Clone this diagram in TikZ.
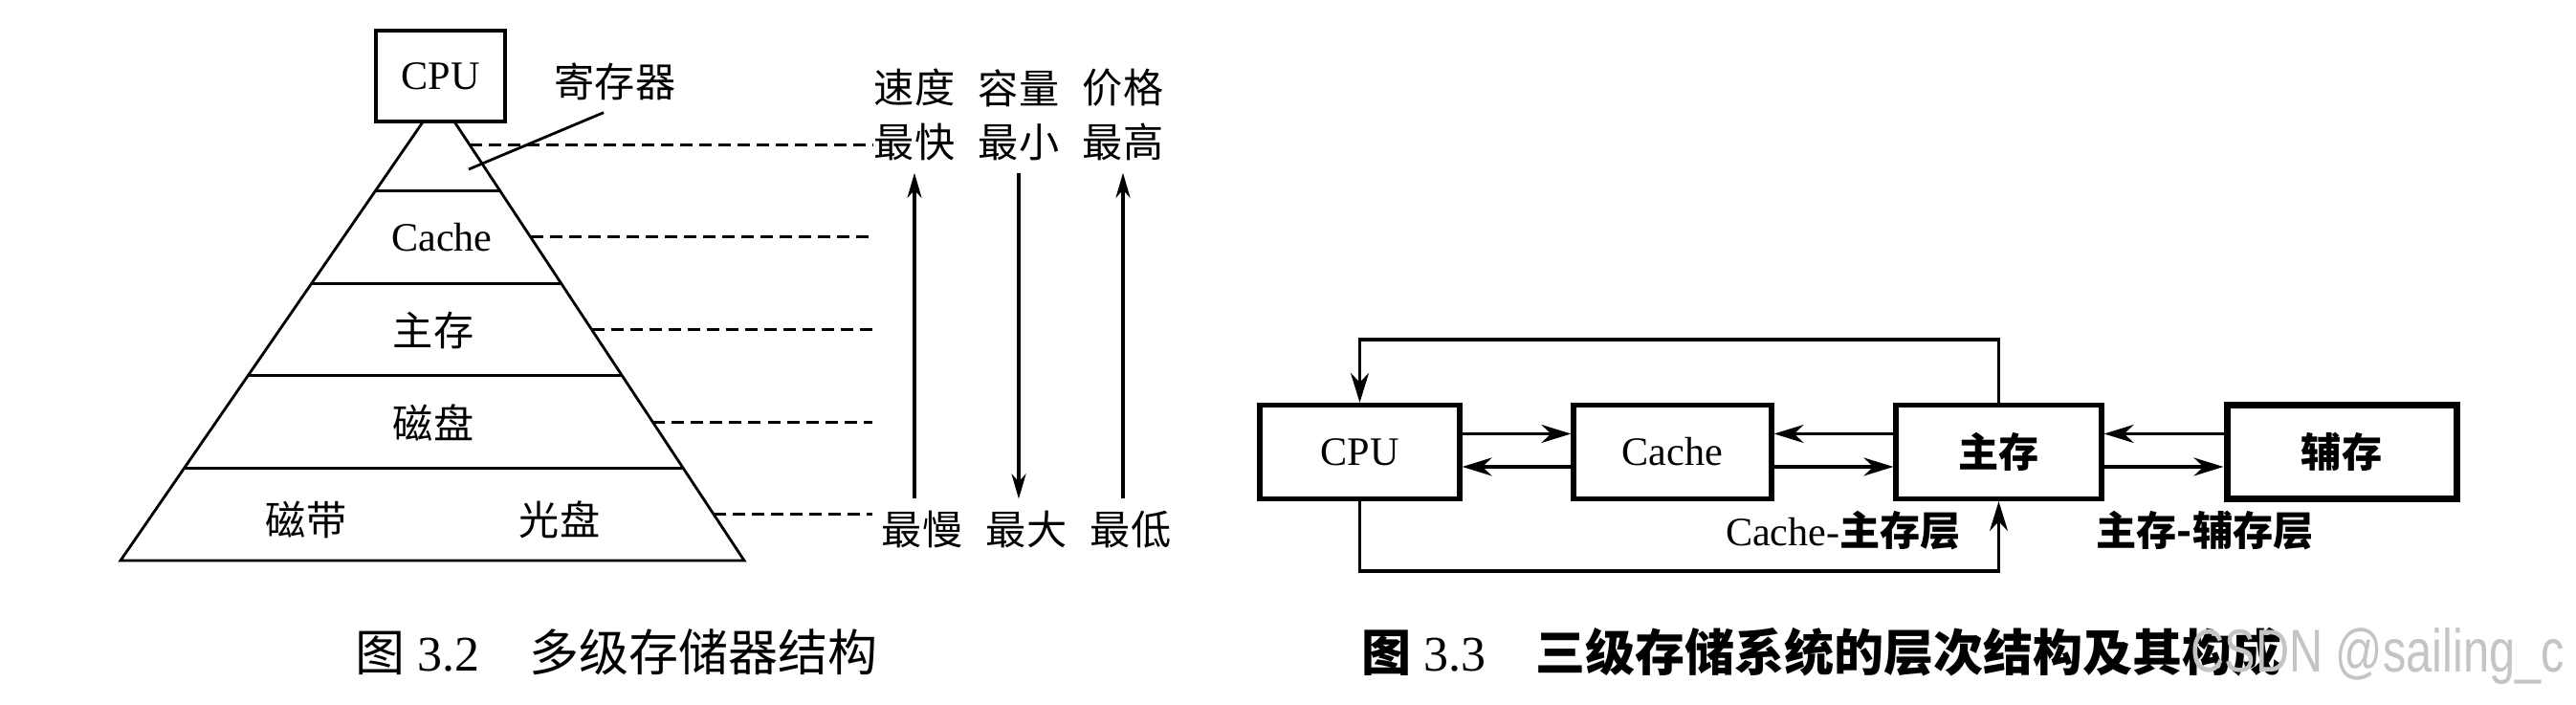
\documentclass[tikz,border=0pt]{standalone}
\usepackage{fontspec}
\setmainfont{Liberation Serif}
\newfontfamily\cjk{Noto Sans CJK SC}
\newfontfamily\wmfont{Liberation Sans}
\usepackage{graphicx}
\usepackage{tikz}
\usetikzlibrary{calc,arrows.meta}
\definecolor{markgray}{RGB}{196,196,196}

\begin{document}
\begin{tikzpicture}[
    font=\fontsize{12}{16}\selectfont,
    line width=0.8pt,
    zh/.style={font=\fontsize{12}{16}\selectfont\cjk},
    zhb/.style={font=\fontsize{12}{16}\selectfont\cjk\bfseries},
    guide/.style={line width=0.85pt, dash pattern=on 3.7pt off 2pt},
    trend/.style={line width=1pt, -{Stealth[length=2.6mm,width=1.5mm,inset=0.8mm]}},
    unit/.style={draw, line width=1.5pt, minimum width=2.08cm, minimum height=0.98cm, inner sep=0pt},
    flow/.style={line width=0.95pt, -{Stealth[length=3.1mm,width=1.9mm,inset=1mm]}},
    captext/.style={font=\fontsize{14.8}{18}\selectfont, anchor=west}
]
    \useasboundingbox (0,0) rectangle (26.93,7.37);

    % Pyramid of storage levels
    \coordinate (apex) at (4.59,6.34);
    \coordinate (BL) at (1.26,1.51);
    \coordinate (BR) at (7.78,1.51);
    \draw (apex) -- (BL) -- (BR) -- cycle;
    \foreach \t in {0.2,0.4,0.6,0.8}
        \draw ($(apex)!\t!(BL)$) -- ($(apex)!\t!(BR)$);

    % CPU box hides the tip
    \node[draw, fill=white, line width=0.95pt, minimum width=1.35cm, minimum height=0.95cm] (cpu) at (4.605,6.575) {CPU};

    % Level labels
    \node (cache) at (4.62,4.89) {Cache};
    \node[zh] (mem) at (4.53,3.92) {主存};
    \node[zh] (disk) at (4.53,2.95) {磁盘};
    \node[zh] (tape) at (3.20,1.94) {磁带};
    \node[zh] (optical) at (5.85,1.94) {光盘};
    \node[zh] (reg) at (6.43,6.52) {寄存器};
    \coordinate (regpt) at (4.90,5.60);
    \draw (reg.250) -- (regpt);

    % Dashed guides out of each level
    \coordinate (gend) at (9.12,0);
    \foreach \t in {0.1,0.3,0.5,0.7,0.9}
        \draw[guide] ($(apex)!\t!(BR)$) coordinate (g) -- (g -| gend);

    % Speed, capacity, price
    \node[zh, align=center] (fast) at (9.56,6.17) {速度\\最快};
    \node[zh, align=center] (small) at (10.65,6.17) {容量\\最小};
    \node[zh, align=center] (high) at (11.74,6.17) {价格\\最高};
    \node[zh] (slow) at (9.64,1.83) {最慢};
    \node[zh] (large) at (10.73,1.83) {最大};
    \node[zh] (low) at (11.82,1.83) {最低};
    \draw[trend] (fast.south |- slow.north) -- (fast.south);
    \draw[trend] (small.south) -- (small.south |- large.north);
    \draw[trend] (high.south |- low.north) -- (high.south);

    % Three-level storage system
    \node[unit, minimum width=2.09cm] (cpub) at (14.215,2.645) {CPU};
    \node[unit, minimum width=2.07cm] (cacheb) at (17.485,2.645) {Cache};
    \node[unit, zhb, minimum width=2.15cm] (memb) at (20.895,2.645) {主存};
    \node[unit, zhb, minimum width=2.40cm, line width=2pt] (auxb) at (24.48,2.645) {辅存};

    \draw[flow] ([yshift=0.19cm]cpub.east) -- ([yshift=0.19cm]cacheb.west);
    \draw[flow] ([yshift=-0.155cm]cacheb.west) -- ([yshift=-0.155cm]cpub.east);
    \draw[flow] ([yshift=0.19cm]memb.west) -- ([yshift=0.19cm]cacheb.east);
    \draw[flow] ([yshift=-0.155cm]cacheb.east) -- ([yshift=-0.155cm]memb.west);
    \draw[flow] ([yshift=0.19cm]auxb.west) -- ([yshift=0.19cm]memb.east);
    \draw[flow] ([yshift=-0.155cm]memb.east) -- ([yshift=-0.155cm]auxb.west);

    % Direct paths between CPU and main memory
    \draw[flow] (memb.north) -- (memb.north |- 0,3.82) -| (cpub.north);
    \draw[flow] (cpub.south) -- (cpub.south |- 0,1.40) -| (memb.south);

    \node (lvl1) at (19.27,1.82) {Cache-{\cjk\bfseries 主存层}};
    \node[zhb] (lvl2) at (23.05,1.82) {主存-辅存层};

    % Captions
    \node[captext] (cap1) at (3.58,0.55) {{\cjk 图} 3.2\quad{\cjk 多级存储器结构}};
    \node[captext] (cap2) at (14.10,0.55) {{\cjk\bfseries 图} 3.3\quad{\cjk\bfseries 三级存储系统的层次结构及其构成}};
    \node[anchor=base west, inner sep=0pt, text=markgray, font=\wmfont\fontsize{18}{20}\selectfont] (mark) at (22.89,0.34) {\scalebox{0.77}[1]{CSDN @sailing\_c}};
\end{tikzpicture}
\end{document}
